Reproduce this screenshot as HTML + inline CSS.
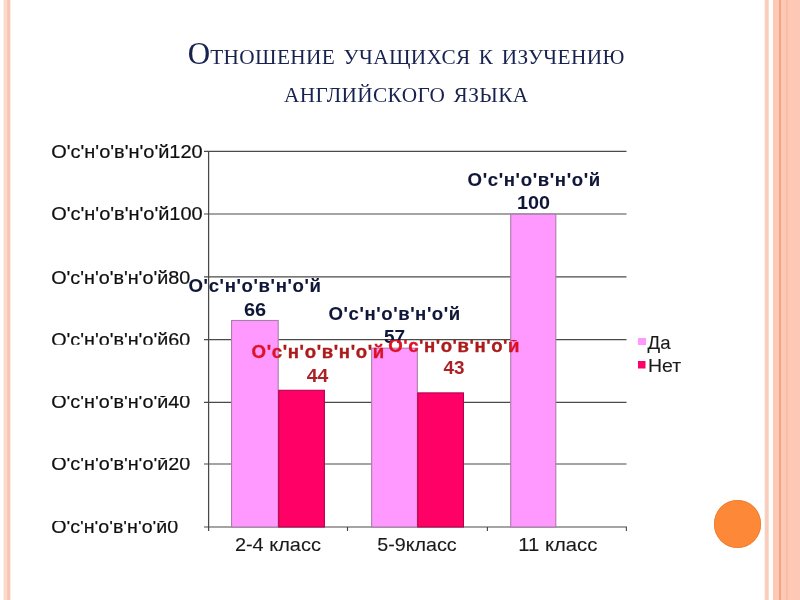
<!DOCTYPE html>
<html><head><meta charset="utf-8">
<style>
html,body{margin:0;padding:0;}
body{width:800px;height:600px;overflow:hidden;background:#fff;position:relative;font-family:"Liberation Sans",sans-serif;}
.abs{position:absolute;}
.title{position:absolute;left:6.3px;width:800px;text-align:center;font-family:"Liberation Serif",serif;color:#18224f;font-size:31px;white-space:nowrap;line-height:38px;word-spacing:2.5px;}
.title .sc{font-size:21.3px;text-transform:uppercase;letter-spacing:0.38px;}
svg{position:absolute;left:0;top:0;}
svg text{font-family:"Liberation Sans",sans-serif;}
</style></head><body>
<!-- side stripes -->
<div class="abs" style="left:3px;top:0;width:8px;height:600px;background:linear-gradient(to right,#fff 0%,#f8d6ca 15%,#fddaca 30%,#fdd8c8 48%,#f7c6b5 58%,#f7c6b5 82%,#fff 100%)"></div>
<div class="abs" style="left:763.5px;top:0;width:5.5px;height:600px;background:linear-gradient(to right,#fff 0%,#f9cfc0 28%,#f8cbbb 85%,#fffdfa 100%)"></div>
<div class="abs" style="left:769px;top:0;width:4px;height:600px;background:#fffdfa"></div>
<div class="abs" style="left:773px;top:0;width:27px;height:600px;background:linear-gradient(to right,#f9c9bb 0,#fdc9b6 2px)"></div>
<div class="abs" style="left:778.6px;top:0;width:2.8px;height:600px;background:linear-gradient(to right,#fdc9b6 0%,#f0a583 20%,#f0a583 80%,#fdc9b6 100%)"></div>
<div class="abs" style="left:785.6px;top:0;width:2.8px;height:600px;background:linear-gradient(to right,#fdc9b6 0%,#fbbca1 20%,#fbbca1 80%,#fdc9b6 100%)"></div>
<div class="abs" style="left:713.8px;top:499.8px;width:47.4px;height:48px;border-radius:50%;background:#fd8838;box-shadow:inset 0 0 0 0.8px #ee7d30"></div>

<div class="title" style="top:35px;">О<span class="sc">тношение учащихся к изучению</span></div>
<div class="title" style="top:73px;"><span class="sc">английского языка</span></div>

<svg width="800" height="600" viewBox="0 0 800 600">
<defs>
<clipPath id="c60"><rect x="40" y="325" width="170" height="19.8"/></clipPath>
<clipPath id="c0"><rect x="40" y="521" width="170" height="20"/></clipPath>
<clipPath id="c40"><rect x="40" y="396" width="170" height="20"/></clipPath>
<clipPath id="c20"><rect x="40" y="458" width="170" height="20"/></clipPath>
<clipPath id="c66"><rect x="180" y="279.5" width="150" height="20"/></clipPath>
<clipPath id="c44"><rect x="245" y="347" width="150" height="20"/></clipPath>
<clipPath id="c43"><rect x="380" y="340" width="150" height="20"/></clipPath>
<linearGradient id="r44" gradientUnits="userSpaceOnUse" x1="0" y1="0" x2="800" y2="0"><stop offset="0.348" stop-color="#de1226"/><stop offset="0.3485" stop-color="#ad1a1a"/><stop offset="0.4638" stop-color="#ad1a1a"/><stop offset="0.4642" stop-color="#d81226"/></linearGradient>
<linearGradient id="r43" gradientUnits="userSpaceOnUse" x1="0" y1="0" x2="800" y2="0"><stop offset="0.522" stop-color="#de1226"/><stop offset="0.5225" stop-color="#ad1a1a"/><stop offset="0.6378" stop-color="#ad1a1a"/><stop offset="0.6382" stop-color="#d81226"/></linearGradient>
</defs>
<g stroke="#4a4a4a" stroke-width="1.15" fill="none">
<line x1="204" y1="151.3" x2="626.5" y2="151.3"/>
<line x1="204" y1="214" x2="626.5" y2="214"/>
<line x1="204" y1="276.9" x2="626.5" y2="276.9"/>
<line x1="204" y1="339.6" x2="626.5" y2="339.6"/>
<line x1="204" y1="402.4" x2="626.5" y2="402.4"/>
<line x1="204" y1="464" x2="626.5" y2="464"/>
<line x1="204" y1="527" x2="627" y2="527"/>
<line x1="208.6" y1="151" x2="208.6" y2="531" stroke="#484848" stroke-width="1.25"/>
<line x1="347.5" y1="527" x2="347.5" y2="531" stroke="#444"/>
<line x1="487.4" y1="527" x2="487.4" y2="531" stroke="#444"/>
<line x1="626.4" y1="527" x2="626.4" y2="531" stroke="#505050"/>
</g>
<g stroke="#a87eaa" stroke-width="1.1">
<rect x="231.55" y="320.5" width="46.65" height="206.5" fill="#ff99ff"/>
<rect x="278.7" y="390.3" width="45.7" height="136.7" fill="#ff0066" stroke="#b5004e"/>
<rect x="371.65" y="348.2" width="45.7" height="178.8" fill="#ff99ff"/>
<rect x="417.75" y="392.9" width="45.7" height="134.1" fill="#ff0066" stroke="#b5004e"/>
<rect x="510.7" y="214.2" width="45.1" height="312.8" fill="#ff99ff"/>
</g>
<g font-size="18.6" fill="#101010" stroke="#101010" stroke-width="0.22">
<text x="51.2" y="158" textLength="151.5" lengthAdjust="spacingAndGlyphs">О'с'н'о'в'н'о'й120</text>
<text x="51.2" y="220.3" textLength="151.5" lengthAdjust="spacingAndGlyphs">О'с'н'о'в'н'о'й100</text>
<text x="51.2" y="283.8" textLength="139" lengthAdjust="spacingAndGlyphs">О'с'н'о'в'н'о'й80</text>
<text clip-path="url(#c60)" x="51.2" y="345.7" textLength="139" lengthAdjust="spacingAndGlyphs">О'с'н'о'в'н'о'й60</text>
<text clip-path="url(#c40)" x="51.2" y="408" textLength="139" lengthAdjust="spacingAndGlyphs">О'с'н'о'в'н'о'й40</text>
<text clip-path="url(#c20)" x="51.2" y="470.2" textLength="139" lengthAdjust="spacingAndGlyphs">О'с'н'о'в'н'о'й20</text>
<text clip-path="url(#c0)" x="51.2" y="533" textLength="127" lengthAdjust="spacingAndGlyphs">О'с'н'о'в'н'о'й0</text>
</g>
<g font-size="18.6" fill="#1a1a1a" stroke="#1a1a1a" stroke-width="0.1">
<text x="234.9" y="550.6" textLength="86" lengthAdjust="spacingAndGlyphs">2-4 класс</text>
<text x="377.2" y="550.6" textLength="79.5" lengthAdjust="spacingAndGlyphs">5-9класс</text>
<text x="518.3" y="550.6" textLength="79" lengthAdjust="spacingAndGlyphs">11 класс</text>
</g>
<g font-size="18.6" font-weight="bold" fill="#0f1638" stroke="#0f1638" stroke-width="0.12">
<text x="188.5" y="291.5" textLength="132.5" lengthAdjust="spacing">О'с'н'о'в'н'о'й</text>
<text stroke="none" x="243.9" y="315.7" textLength="22.2" lengthAdjust="spacingAndGlyphs">66</text>
<text x="328.6" y="320.3" textLength="131.6" lengthAdjust="spacing">О'с'н'о'в'н'о'й</text>
<text stroke="none" x="384" y="343.3" textLength="21.2" lengthAdjust="spacingAndGlyphs">57</text>
<text x="467.6" y="186.3" textLength="132.6" lengthAdjust="spacing">О'с'н'о'в'н'о'й</text>
<text stroke="none" x="517" y="208.8" textLength="33" lengthAdjust="spacingAndGlyphs">100</text>
</g>
<g font-size="18.6" font-weight="bold" fill="#ab2226" stroke="#ab2226" stroke-width="0.12">
<text fill="url(#r44)" stroke="url(#r44)" stroke-width="0.35" x="251.6" y="358" textLength="132.6" lengthAdjust="spacing">О'с'н'о'в'н'о'й</text>
<text stroke="none" x="306.8" y="381.5" textLength="21.6" lengthAdjust="spacingAndGlyphs">44</text>
<text clip-path="url(#c43)" fill="url(#r43)" stroke="url(#r43)" stroke-width="0.35" x="388.2" y="352" textLength="131.2" lengthAdjust="spacing">О'с'н'о'в'н'о'й</text>
<text stroke="none" x="443.4" y="374.2" textLength="21" lengthAdjust="spacingAndGlyphs">43</text>
</g>
<rect x="638" y="338" width="8" height="7" fill="#ff99ff"/>
<rect x="638" y="361" width="7.500" height="7.500" fill="#ff0066"/>
<g font-size="18.6" fill="#1a1a1a" stroke="#1a1a1a" stroke-width="0.1">
<text x="647.5" y="348.5" textLength="23" lengthAdjust="spacingAndGlyphs">Да</text>
<text x="648" y="371.5" textLength="33.2" lengthAdjust="spacingAndGlyphs">Нет</text>
</g>
</svg>
</body></html>
